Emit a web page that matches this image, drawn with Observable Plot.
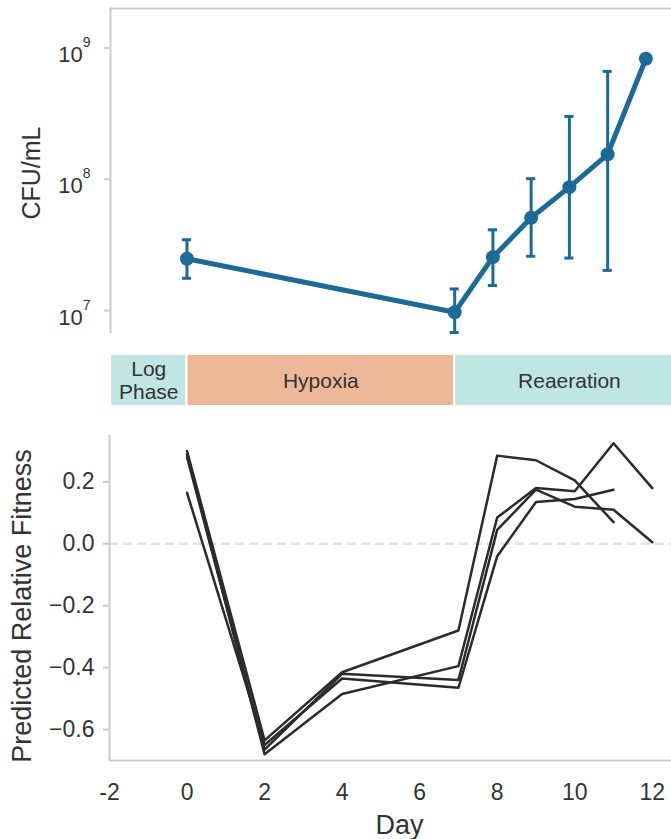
<!DOCTYPE html>
<html><head><meta charset="utf-8">
<script src="https://cdn.jsdelivr.net/npm/d3@7"></script>
<script src="https://cdn.jsdelivr.net/npm/@observablehq/plot@0.6"></script>
<style>
html,body{margin:0;padding:0;background:#fff;overflow:hidden;}
#chart{width:671px;height:839px;position:relative;overflow:hidden;background:#fff;}
#chart svg{display:block;max-width:none !important;}
</style></head><body><div id="chart"></div>
<script>
// ---- data ----
const cfuDays = [0, 7, 8, 9, 10, 11, 12];
const cfuMean = [2.48e7, 9.7e6, 2.55e7, 5.09e7, 8.71e7, 1.55e8, 8.28e8];
const cfuLow  = [1.76e7, 6.8e6, 1.55e7, 2.59e7, 2.51e7, 2.02e7, null];
const cfuHigh = [3.46e7, 1.46e7, 4.12e7, 1.01e8, 3.01e8, 6.64e8, null];
const cfuTicks = [1e7, 1e8, 1e9];

const phaseNames = ["Log\nPhase", "Hypoxia", "Reaeration"];
const phaseStart = [-2, 0, 7];
const phaseEnd = [0, 7, 13];
const phaseColors = ["#c0e6e3", "#ecb898", "#c0e6e3"];

const fitDays = [0, 2, 4, 7, 8, 9, 10, 11, 12];
const fitA = [0.30, -0.635, -0.415, -0.28, 0.285, 0.27, 0.205, 0.07, null];
const fitB = [0.29, -0.68, -0.485, -0.395, 0.085, 0.18, 0.17, 0.325, 0.18];
const fitC = [0.28, -0.665, -0.42, -0.44, 0.045, 0.175, 0.12, 0.11, 0.005];
const fitD = [0.165, -0.65, -0.435, -0.465, -0.04, 0.135, 0.145, 0.175, null];
const fitTicks = [-0.6, -0.4, -0.2, 0, 0.2];
const dayTicks = [-2, 0, 2, 4, 6, 8, 10, 12];

// ---- build tables ----
const cfu = cfuDays.map((d, i) => ({day: d, mean: cfuMean[i], low: cfuLow[i], high: cfuHigh[i]}));
const cfuErr = cfu.filter(d => d.low != null);
const phases = phaseNames.map((n, i) => ({name: n, start: phaseStart[i], end: phaseEnd[i], color: phaseColors[i]}));
const fit = [];
[["A", fitA], ["B", fitB], ["C", fitC], ["D", fitD]].forEach(([k, arr]) => {
  arr.forEach((v, i) => { if (v != null) fit.push({series: k, day: fitDays[i], value: v}); });
});

const FONT = '"Liberation Sans", Arial, Helvetica, sans-serif';
const INK = "#333333";
const SPINE = "#cccccc";
const BLUE = "#1b6a97";
const sup = {"0":"⁰","1":"¹","2":"²","3":"³","4":"⁴","5":"⁵","6":"⁶","7":"⁷","8":"⁸","9":"⁹"};
const unsup = Object.fromEntries(Object.entries(sup).map(([a, b]) => [b, a]));
const baseStyle = {fontFamily: FONT, fontSize: "23px", color: INK, background: "white", overflow: "visible", maxWidth: "none"};

const topDomainX = [-2, 12.67];
const topDomainY = [6.68e6, 2.0e9];
const botDomainX = [-2, 12.96];
const botDomainY = [-0.70, 0.35];

function styleAxes(svg, labelSize, labelShift) {
  svg.querySelectorAll('[aria-label$="axis tick"]').forEach(g => {
    g.setAttribute("stroke", SPINE); g.style.stroke = SPINE; g.setAttribute("stroke-width", 2);
    g.querySelectorAll("path,line").forEach(p => { p.style.stroke = SPINE; p.style.strokeWidth = "2px"; });
  });
  svg.querySelectorAll('g.tick line').forEach(p => { p.style.stroke = SPINE; p.style.strokeWidth = "2px"; });
  svg.querySelectorAll('[aria-label$="axis label"]').forEach(g => {
    g.style.fontSize = labelSize + "px";
    g.querySelectorAll("text").forEach(t => t.style.fontSize = labelSize + "px");
  });
  if (labelShift) {
    svg.querySelectorAll('[aria-label="y-axis label"]').forEach(g => {
      g.setAttribute("transform", (g.getAttribute("transform") || "") + ` translate(0,${labelShift})`);
    });
  }
}

// ---- top chart: CFU/mL ----
const topChart = Plot.plot({
  width: 671, height: 340, marginTop: 8, marginBottom: 7, marginLeft: 110, marginRight: 0,
  style: baseStyle,
  x: {domain: topDomainX, axis: null},
  y: {type: "log", domain: topDomainY, ticks: cfuTicks,
      tickFormat: d => "10" + String(Math.round(Math.log10(d))).split("").map(c => sup[c]).join(""),
      tickSize: 6, tickPadding: 9, label: "CFU/mL", labelAnchor: "center", labelOffset: 88, labelArrow: "none"},
  marks: [
    Plot.ruleY([topDomainY[1]], {stroke: SPINE, strokeWidth: 2}),
    Plot.ruleX([topDomainX[0]], {stroke: SPINE, strokeWidth: 2}),
    Plot.ruleX(cfuErr, {x: "day", y1: "low", y2: "high", stroke: BLUE, strokeWidth: 3}),
    Plot.ruleY(cfuErr, {y: "low", x1: d => d.day - 0.12, x2: d => d.day + 0.12, stroke: BLUE, strokeWidth: 3}),
    Plot.ruleY(cfuErr, {y: "high", x1: d => d.day - 0.12, x2: d => d.day + 0.12, stroke: BLUE, strokeWidth: 3}),
    Plot.line(cfu, {x: "day", y: "mean", stroke: BLUE, strokeWidth: 5}),
    Plot.dot(cfu, {x: "day", y: "mean", r: 7, fill: BLUE})
  ]
});
styleAxes(topChart, 25, 2);
// render exponents as raised smaller text
topChart.querySelectorAll('[aria-label="y-axis tick label"] text, g.tick text').forEach(t => {
  const s = t.textContent;
  const m = s.match(/^10(.+)$/);
  if (!m) return;
  const e = m[1].split("").map(c => unsup[c] || c).join("");
  t.textContent = "";
  const ns = "http://www.w3.org/2000/svg";
  const a = document.createElementNS(ns, "tspan"); a.setAttribute("dy", "7"); a.textContent = "10";
  const b = document.createElementNS(ns, "tspan"); b.setAttribute("dy", "-15"); b.setAttribute("font-size", "14"); b.textContent = e;
  t.appendChild(a); t.appendChild(b);
  t.style.fontSize = "22px";
  t.setAttribute("transform", (t.getAttribute("transform") || "") + " translate(-5,0)");
});

// ---- phase band ----
const bandChart = Plot.plot({
  width: 671, height: 80, marginTop: 14, marginBottom: 14, marginLeft: 110, marginRight: 0,
  style: baseStyle,
  x: {domain: topDomainX, axis: null},
  y: {domain: [0, 1], axis: null},
  marks: [
    Plot.rect(phases, {x1: "start", x2: "end", y1: 0, y2: 1, fill: "color", stroke: "white", strokeWidth: 2, clip: true}),
    Plot.text(phases, {x: d => (d.start + d.end) / 2, y: 0.5, text: "name", fill: INK, fontSize: 21, lineHeight: 1.1})
  ]
});

// ---- bottom chart: predicted relative fitness ----
const bottomChart = Plot.plot({
  width: 689, height: 419, marginTop: 15, marginBottom: 79, marginLeft: 109, marginRight: 0,
  style: baseStyle,
  x: {domain: botDomainX, ticks: dayTicks, tickFormat: d => String(d), tickSize: 0, tickPadding: 23,
      label: "Day", labelAnchor: "center", labelOffset: 73, labelArrow: "none"},
  y: {domain: botDomainY, ticks: fitTicks, tickFormat: d3.format(".1f"), tickSize: 6, tickPadding: 9,
      label: "Predicted Relative Fitness", labelAnchor: "center", labelOffset: 98, labelArrow: "none"},
  marks: [
    Plot.ruleY([0], {stroke: "#e2e2e2", strokeWidth: 2.5, strokeDasharray: "9,5"}),
    Plot.ruleX([botDomainX[0]], {stroke: SPINE, strokeWidth: 2}),
    Plot.ruleY([botDomainY[0]], {stroke: SPINE, strokeWidth: 2}),
    Plot.line(fit, {x: "day", y: "value", z: "series", stroke: "#2b2b2b", strokeWidth: 2.5})
  ]
});
styleAxes(bottomChart, 27, 8);

const root = document.getElementById("chart");
root.appendChild(topChart);
root.appendChild(bandChart);
root.appendChild(bottomChart);
</script>
</body></html>
